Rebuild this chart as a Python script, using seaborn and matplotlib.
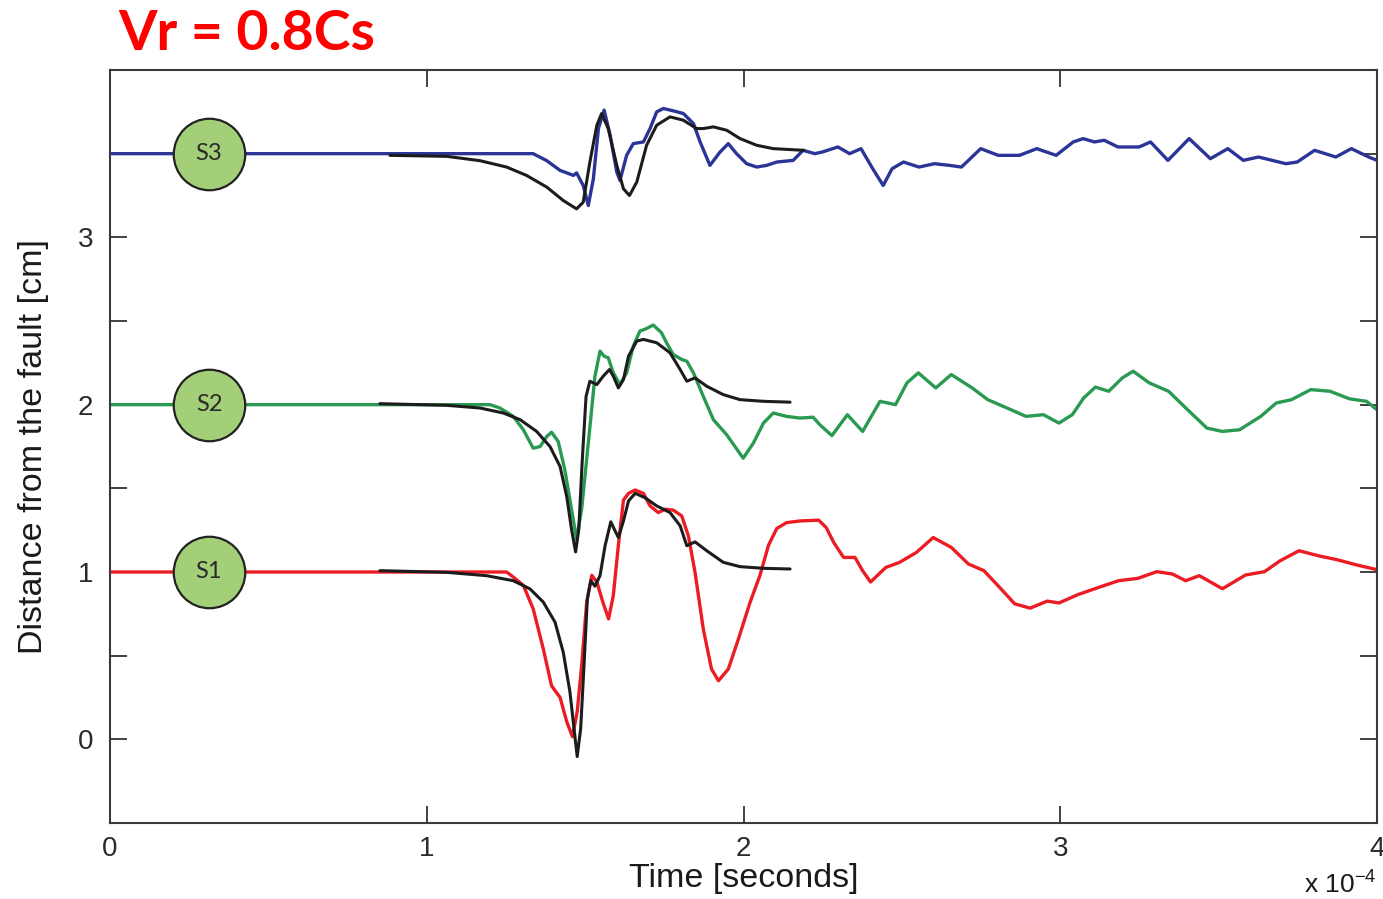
import matplotlib
matplotlib.use("Agg")
import matplotlib.pyplot as plt
import numpy as np
import pandas as pd
import seaborn as sns

# Time axis in units of 1e-4 s, displacement traces offset by station distance [cm]
s3_t = [0.0, 0.5, 1.0, 1.2, 1.336, 1.379, 1.421, 1.463, 1.473, 1.494, 1.510, 1.526, 1.542,
        1.560, 1.579, 1.600, 1.610, 1.631, 1.652, 1.684, 1.705, 1.726, 1.747, 1.778, 1.810,
        1.842, 1.863, 1.894, 1.926, 1.952, 1.978, 2.010, 2.042, 2.073, 2.105, 2.157, 2.188,
        2.225, 2.249, 2.298, 2.335, 2.371, 2.408, 2.441, 2.469, 2.505, 2.554, 2.603, 2.651,
        2.688, 2.749, 2.804, 2.871, 2.926, 2.987, 3.041, 3.072, 3.108, 3.139, 3.182, 3.249,
        3.285, 3.340, 3.407, 3.474, 3.529, 3.578, 3.626, 3.712, 3.748, 3.803, 3.870, 3.919,
        3.974, 4.0]
s3_y = [3.50, 3.50, 3.50, 3.50, 3.50, 3.458, 3.40, 3.37, 3.385, 3.31, 3.19, 3.35, 3.65,
        3.76, 3.61, 3.39, 3.34, 3.49, 3.56, 3.57, 3.65, 3.75, 3.77, 3.756, 3.74,
        3.68, 3.57, 3.43, 3.51, 3.56, 3.50, 3.44, 3.42, 3.43, 3.45, 3.46, 3.52,
        3.50, 3.51, 3.54, 3.50, 3.53, 3.41, 3.31, 3.41, 3.45, 3.42, 3.44, 3.43,
        3.42, 3.53, 3.49, 3.49, 3.53, 3.49, 3.57, 3.59, 3.57, 3.58, 3.54, 3.54,
        3.57, 3.46, 3.59, 3.47, 3.53, 3.46, 3.48, 3.44, 3.45, 3.52, 3.48, 3.53,
        3.48, 3.46]

s2_t = [0.0, 0.5, 1.0, 1.2, 1.231, 1.273, 1.305, 1.336, 1.358, 1.379, 1.394, 1.415, 1.436,
        1.457, 1.473, 1.489, 1.510, 1.531, 1.547, 1.560, 1.573, 1.589, 1.610, 1.631, 1.652,
        1.673, 1.694, 1.715, 1.741, 1.757, 1.778, 1.805, 1.821, 1.842, 1.873, 1.905, 1.947,
        1.973, 1.999, 2.031, 2.063, 2.094, 2.136, 2.178, 2.220, 2.241, 2.279, 2.328, 2.376,
        2.431, 2.480, 2.516, 2.552, 2.607, 2.656, 2.722, 2.771, 2.832, 2.892, 2.947, 2.996,
        3.038, 3.074, 3.111, 3.153, 3.196, 3.230, 3.281, 3.342, 3.402, 3.463, 3.512, 3.566,
        3.633, 3.682, 3.730, 3.791, 3.852, 3.913, 3.967, 4.0]
s2_y = [2.00, 2.00, 2.00, 2.00, 1.98, 1.93, 1.85, 1.74, 1.75, 1.81, 1.835, 1.78, 1.61,
        1.375, 1.196, 1.375, 1.77, 2.17, 2.32, 2.29, 2.28, 2.19, 2.12, 2.19, 2.35,
        2.44, 2.455, 2.476, 2.43, 2.37, 2.30, 2.27, 2.26, 2.19, 2.05, 1.91, 1.82,
        1.75, 1.68, 1.77, 1.89, 1.95, 1.93, 1.92, 1.925, 1.88, 1.815, 1.94, 1.84,
        2.02, 2.00, 2.13, 2.19, 2.10, 2.18, 2.10, 2.03, 1.98, 1.93, 1.94, 1.89,
        1.94, 2.04, 2.105, 2.08, 2.16, 2.20, 2.13, 2.08, 1.97, 1.86, 1.84, 1.85,
        1.93, 2.01, 2.03, 2.09, 2.08, 2.035, 2.02, 1.97]

s1_t = [0.0, 0.5, 1.0, 1.252, 1.273, 1.305, 1.336, 1.368, 1.394, 1.421, 1.442, 1.460, 1.475,
        1.489, 1.505, 1.521, 1.537, 1.556, 1.574, 1.589, 1.605, 1.621, 1.637, 1.658, 1.684,
        1.705, 1.731, 1.752, 1.778, 1.805, 1.826, 1.847, 1.873, 1.899, 1.921, 1.952, 1.984,
        2.021, 2.052, 2.079, 2.105, 2.136, 2.178, 2.237, 2.261, 2.285, 2.316, 2.352, 2.376,
        2.401, 2.449, 2.492, 2.546, 2.599, 2.656, 2.710, 2.759, 2.813, 2.856, 2.905, 2.959,
        2.996, 3.056, 3.123, 3.184, 3.245, 3.305, 3.354, 3.396, 3.439, 3.512, 3.585, 3.645,
        3.694, 3.754, 3.815, 3.875, 3.936, 4.0]
s1_y = [1.00, 1.00, 1.00, 1.00, 0.97, 0.92, 0.78, 0.54, 0.32, 0.25, 0.105, 0.016, 0.165,
        0.44, 0.82, 0.98, 0.94, 0.82, 0.72, 0.86, 1.16, 1.43, 1.47, 1.49, 1.47,
        1.395, 1.355, 1.375, 1.37, 1.335, 1.216, 0.998, 0.66, 0.42, 0.35, 0.42, 0.60,
        0.82, 0.98, 1.16, 1.26, 1.295, 1.305, 1.31, 1.266, 1.176, 1.087, 1.087, 1.008,
        0.94, 1.027, 1.057, 1.117, 1.206, 1.147, 1.048, 1.008, 0.899, 0.81, 0.784, 0.826,
        0.815, 0.865, 0.909, 0.948, 0.962, 1.002, 0.988, 0.948, 0.978, 0.90, 0.982, 1.002,
        1.067, 1.127, 1.097, 1.073, 1.042, 1.014]

# Synthetic (model) waveforms
fit3_t = [0.884, 1.063, 1.168, 1.252, 1.315, 1.379, 1.431, 1.473, 1.494, 1.515, 1.537, 1.552,
          1.573, 1.600, 1.621, 1.640, 1.663, 1.694, 1.726, 1.768, 1.810, 1.852, 1.873, 1.905,
          1.947, 1.989, 2.042, 2.094, 2.19]
fit3_y = [3.49, 3.484, 3.458, 3.42, 3.37, 3.30, 3.22, 3.17, 3.21, 3.45, 3.67, 3.74,
          3.65, 3.43, 3.29, 3.25, 3.33, 3.55, 3.67, 3.72, 3.70, 3.65, 3.65, 3.66,
          3.64, 3.59, 3.55, 3.53, 3.52]

fit2_t = [0.852, 1.063, 1.168, 1.242, 1.295, 1.347, 1.389, 1.421, 1.442, 1.457, 1.470, 1.480,
          1.491, 1.503, 1.515, 1.537, 1.557, 1.577, 1.589, 1.605, 1.621, 1.637, 1.663, 1.684,
          1.726, 1.768, 1.800, 1.821, 1.847, 1.884, 1.936, 1.989, 2.063, 2.147]
fit2_y = [2.006, 1.996, 1.98, 1.95, 1.91, 1.84, 1.75, 1.63, 1.45, 1.256, 1.12, 1.256,
          1.67, 2.05, 2.14, 2.12, 2.17, 2.21, 2.17, 2.10, 2.15, 2.29, 2.38, 2.39,
          2.37, 2.31, 2.21, 2.14, 2.16, 2.11, 2.06, 2.03, 2.02, 2.015]

fit1_t = [0.852, 1.063, 1.189, 1.273, 1.326, 1.368, 1.405, 1.431, 1.452, 1.466, 1.475, 1.486,
          1.497, 1.507, 1.518, 1.531, 1.547, 1.563, 1.581, 1.592, 1.605, 1.621, 1.637, 1.658,
          1.689, 1.726, 1.768, 1.800, 1.821, 1.847, 1.884, 1.936, 1.989, 2.063, 2.147]
fit1_y = [1.008, 0.998, 0.978, 0.948, 0.899, 0.82, 0.70, 0.52, 0.284, 0.046, -0.103, 0.065,
          0.46, 0.84, 0.948, 0.915, 0.978, 1.157, 1.30, 1.256, 1.206, 1.305, 1.425, 1.47,
          1.444, 1.395, 1.355, 1.276, 1.157, 1.18, 1.127, 1.058, 1.032, 1.022, 1.018]

station_names = ["S1", "S2", "S3"]
station_y = [1.0, 2.0, 3.5]
station_t = [0.3125, 0.3125, 0.3125]

sns.set_theme(style="white")
plt.rcParams["font.family"] = ["Liberation Sans", "DejaVu Sans"]

fig = plt.figure(figsize=(13.83, 8.99), dpi=100)
ax = fig.add_axes([110 / 1383, 1 - 823 / 899, (1377 - 110) / 1383, (823 - 70) / 899])

blue, green, red, black = "#2b3597", "#2a9a52", "#ec1c24", "#1c1c1c"

for t, y, c in [(s3_t, s3_y, blue), (s2_t, s2_y, green), (s1_t, s1_y, red)]:
    sns.lineplot(x=t, y=y, ax=ax, color=c, lw=2.4, sort=False, estimator=None, zorder=2,
                 solid_joinstyle="round", solid_capstyle="round")
for t, y in [(fit3_t, fit3_y), (fit2_t, fit2_y), (fit1_t, fit1_y)]:
    sns.lineplot(x=t, y=y, ax=ax, color=black, lw=2.2, sort=False, estimator=None, zorder=3,
                 solid_joinstyle="round", solid_capstyle="round")

stations = pd.DataFrame({"t": station_t, "y": station_y, "name": station_names})
sns.scatterplot(data=stations, x="t", y="y", ax=ax, s=2650, color="#a3cf78",
                edgecolor="#222222", linewidth=1.6, zorder=5, legend=False)
for _, r in stations.iterrows():
    ax.text(r.t, r.y, r["name"], ha="center", va="center", fontsize=17,
            color="#2a2a2a", family="Lato", zorder=6)

ax.set_xlim(0, 4)
ax.set_ylim(-0.5, 4)
ax.set_xticks([0, 1, 2, 3, 4])
yt = np.arange(0, 4.0, 0.5)
ax.set_yticks(yt)
ax.set_yticklabels([f"{v:g}" if v == int(v) else "" for v in yt])
ax.tick_params(direction="in", length=12, width=1.3, color="#333333",
               labelsize=20, labelcolor="#2a2a2a", top=True, right=True,
               bottom=True, left=True)
ax.tick_params(axis="x", pad=9)
ax.tick_params(axis="y", pad=12)
for sp in ax.spines.values():
    sp.set_color("#3a3a3a")
    sp.set_linewidth(1.5)

ax.set_xlabel("Time [seconds]", fontsize=24.5, color="#1a1a1a", labelpad=1)
ax.set_ylabel("Distance from the fault [cm]", fontsize=24.5, color="#1a1a1a", labelpad=21)

fig.text(1377 / 1383, 1 - 898 / 899, r"x 10$^{\mathregular{-4}}$", ha="right", va="bottom",
         fontsize=19, color="#1a1a1a")
fig.text(118 / 1383, 1 - 50 / 899, "Vr = 0.8Cs", ha="left", va="baseline",
         fontsize=40, fontweight="bold", color="#ff0000", family="Lato")

fig.savefig("out.png", dpi=100)
